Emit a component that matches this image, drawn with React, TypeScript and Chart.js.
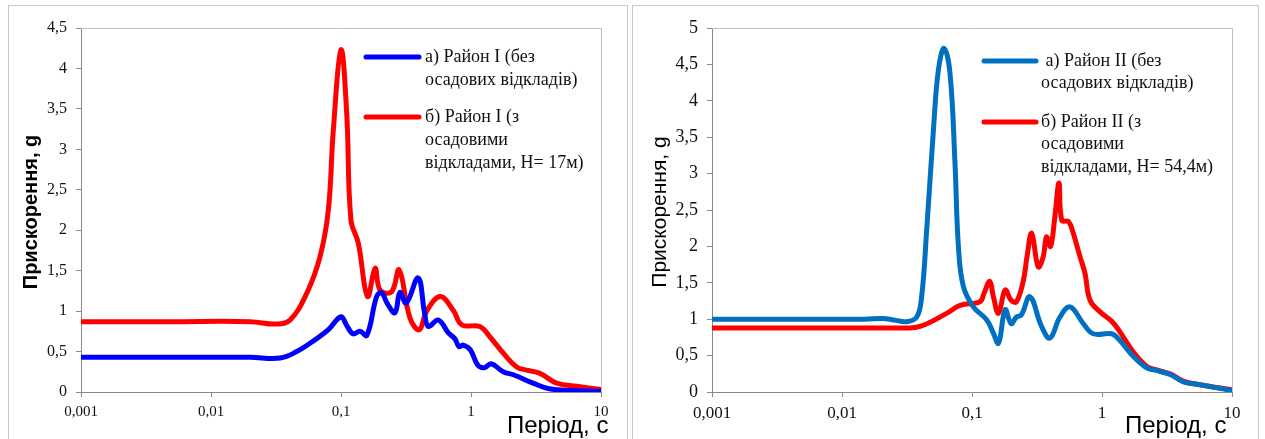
import React, { useEffect, useRef } from "react";
import { Chart, registerables } from "chart.js";

Chart.register(...registerables);

// ---------- DATA ----------
const xTickValues = [0.001, 0.01, 0.1, 1, 10];
const xTickLabels = ["0,001", "0,01", "0,1", "1", "10"];

const yTickValuesLeft = [0, 0.5, 1, 1.5, 2, 2.5, 3, 3.5, 4, 4.5];
const yTickLabelsLeft = ["0", "0,5", "1", "1,5", "2", "2,5", "3", "3,5", "4", "4,5"];
const yTickValuesRight = [0, 0.5, 1, 1.5, 2, 2.5, 3, 3.5, 4, 4.5, 5];
const yTickLabelsRight = ["0", "0,5", "1", "1,5", "2", "2,5", "3", "3,5", "4", "4,5", "5"];

const yTitle = "Прискорення, g";
const xTitle = "Період, с";

// Left chart, series a (blue)
const leftPeriodsA = [0.001, 0.005, 0.02, 0.034, 0.0456, 0.065, 0.08, 0.1, 0.11, 0.1235, 0.14, 0.158, 0.188, 0.205, 0.226, 0.26, 0.284, 0.318, 0.392, 0.44, 0.47, 0.561, 0.67, 0.75, 0.81, 0.87, 0.99, 1.13, 1.27, 1.43, 1.77, 2.14, 3.0, 4.0, 6.2, 10];
const leftValuesA = [0.43, 0.43, 0.43, 0.42, 0.5, 0.66, 0.77, 0.93, 0.83, 0.72, 0.75, 0.7, 1.18, 1.23, 1.1, 0.98, 1.23, 1.1, 1.41, 0.97, 0.81, 0.89, 0.73, 0.66, 0.56, 0.58, 0.52, 0.33, 0.3, 0.35, 0.25, 0.21, 0.11, 0.04, 0.02, 0.01];
// Left chart, series b (red)
const leftPeriodsB = [0.001, 0.005, 0.02, 0.032, 0.0406, 0.0545, 0.0689, 0.0799, 0.0873, 0.1, 0.1106, 0.1192, 0.1359, 0.16, 0.183, 0.2, 0.245, 0.28, 0.34, 0.4, 0.456, 0.58, 0.73, 0.85, 1.17, 1.4, 1.772, 2.245, 2.68, 3.39, 4.56, 6.5, 10];
const leftValuesB = [0.87, 0.87, 0.87, 0.84, 0.89, 1.22, 1.67, 2.25, 3.24, 4.23, 3.45, 2.13, 1.84, 1.18, 1.53, 1.26, 1.24, 1.51, 0.91, 0.77, 1.0, 1.18, 1.01, 0.83, 0.81, 0.68, 0.48, 0.31, 0.27, 0.23, 0.11, 0.07, 0.03];

// Right chart, series a (blue)
const rightPeriodsA = [0.001, 0.005, 0.015, 0.0207, 0.025, 0.0315, 0.0376, 0.041, 0.0448, 0.0505, 0.0551, 0.061, 0.0677, 0.074, 0.0786, 0.0858, 0.1024, 0.13, 0.146, 0.16, 0.18, 0.2, 0.22, 0.24, 0.279, 0.343, 0.398, 0.475, 0.568, 0.718, 0.857, 1.19, 1.37, 1.74, 2.21, 2.56, 3.34, 4.22, 5.68, 10];
const rightValuesA = [1.0, 1.0, 1.0, 1.01, 0.99, 0.966, 1.03, 1.31, 2.22, 3.6, 4.42, 4.72, 4.38, 3.14, 2.0, 1.45, 1.17, 0.99, 0.81, 0.67, 1.13, 0.94, 1.03, 1.06, 1.31, 0.9, 0.74, 1.03, 1.17, 0.94, 0.8, 0.8, 0.71, 0.49, 0.33, 0.3, 0.24, 0.14, 0.1, 0.02];
// Right chart, series b (red)
const rightPeriodsB = [0.001, 0.005, 0.02, 0.03, 0.0398, 0.0639, 0.081, 0.115, 0.124, 0.137, 0.146, 0.16, 0.18, 0.2, 0.22, 0.249, 0.265, 0.288, 0.323, 0.353, 0.374, 0.402, 0.434, 0.467, 0.49, 0.553, 0.601, 0.677, 0.74, 0.809, 0.966, 1.19, 1.37, 1.74, 2.21, 2.56, 3.34, 4.22, 5.68, 10];
const rightValuesB = [0.88, 0.88, 0.88, 0.88, 0.9, 1.08, 1.19, 1.24, 1.36, 1.52, 1.31, 1.08, 1.4, 1.26, 1.24, 1.54, 1.86, 2.18, 1.72, 1.86, 2.13, 2.0, 2.41, 2.87, 2.36, 2.34, 2.18, 1.86, 1.63, 1.26, 1.1, 0.97, 0.83, 0.55, 0.35, 0.31, 0.25, 0.15, 0.1, 0.03];

const legendLeftA = ["а) Район I (без", "осадових відкладів)"];
const legendLeftB = ["б) Район I (з", "осадовими", "відкладами, Н= 17м)"];
const legendRightA = [" а) Район II (без", "осадових відкладів)"];
const legendRightB = ["б) Район II (з", "осадовими", "відкладами, Н= 54,4м)"];

const SERIF = "'Liberation Serif', 'Times New Roman', Tinos, 'DejaVu Serif', serif";
const SANS = "'Liberation Sans', Arial, 'DejaVu Sans', sans-serif";

// ---------- CHART ----------
type PanelProps = {
  width: number;
  height: number;
  left: number;
  plotLeft: number;
  plotRight: number;
  yMax: number;
  yTicks: number[];
  yLabels: string[];
  periodsA: number[];
  valuesA: number[];
  periodsB: number[];
  valuesB: number[];
  colorA: string;
  colorB: string;
  legendA: string[];
  legendB: string[];
  legendLineX0: number;
  legendLineX1: number;
  legendTextX: number;
  legendYA: number;
  legendYB: number;
  legendLineH: number;
  tickFontSize: number;
  yTitleFont: string;
  yTitleX: number;
  xTitleX: number;
};

function Panel(p: PanelProps) {
  const ref = useRef<HTMLCanvasElement | null>(null);
  useEffect(() => {
    if (!ref.current) return;
    const toPts = (xs: number[], ys: number[]) => xs.map((x, i) => ({ x, y: ys[i] }));
    const decor = {
      id: "decor",
      beforeDatasetsDraw(chart: any) {
        const { ctx, chartArea } = chart;
        ctx.save();
        ctx.strokeStyle = "#c0c0c0";
        ctx.lineWidth = 1;
        ctx.beginPath();
        ctx.moveTo(chartArea.left, chartArea.top + 0.5);
        ctx.lineTo(chartArea.right + 0.5, chartArea.top + 0.5);
        ctx.lineTo(chartArea.right + 0.5, chartArea.bottom);
        ctx.stroke();
        ctx.restore();
      },
      afterDraw(chart: any) {
        const { ctx } = chart;
        ctx.save();
        const drawEntry = (lines: string[], y: number, color: string) => {
          ctx.strokeStyle = color;
          ctx.lineWidth = 5;
          ctx.lineCap = "round";
          ctx.beginPath();
          ctx.moveTo(p.legendLineX0, y);
          ctx.lineTo(p.legendLineX1, y);
          ctx.stroke();
          ctx.fillStyle = "#111";
          ctx.font = "18px " + SERIF;
          ctx.textAlign = "left";
          ctx.textBaseline = "middle";
          lines.forEach((t, i) => ctx.fillText(t, p.legendTextX, y + i * p.legendLineH));
        };
        drawEntry(p.legendA, p.legendYA, p.colorA);
        drawEntry(p.legendB, p.legendYB, p.colorB);
        ctx.fillStyle = "#000";
        ctx.font = p.yTitleFont;
        ctx.translate(p.yTitleX, 212);
        ctx.rotate(-Math.PI / 2);
        ctx.textAlign = "center";
        ctx.textBaseline = "middle";
        ctx.fillText(yTitle, 0, 0);
        ctx.setTransform(1, 0, 0, 1, 0, 0);
        ctx.font = "24px " + SANS;
        ctx.textAlign = "left";
        ctx.textBaseline = "alphabetic";
        ctx.fillText(xTitle, p.xTitleX, 433);
        ctx.restore();
      },
    };
    const chart = new Chart(ref.current, {
      type: "line",
      data: {
        datasets: [
          {
            data: toPts(p.periodsA, p.valuesA),
            borderColor: p.colorA,
            backgroundColor: p.colorA,
            borderWidth: 5,
            pointRadius: 0,
            tension: 0.4,
            fill: false,
            borderCapStyle: "round",
            borderJoinStyle: "round",
          },
          {
            data: toPts(p.periodsB, p.valuesB),
            borderColor: p.colorB,
            backgroundColor: p.colorB,
            borderWidth: 5,
            pointRadius: 0,
            tension: 0.4,
            fill: false,
            borderCapStyle: "round",
            borderJoinStyle: "round",
          },
        ],
      },
      options: {
        animation: false,
        responsive: false,
        maintainAspectRatio: false,
        layout: { padding: { top: 28, right: p.width - p.plotRight, left: 0, bottom: 0 } },
        plugins: { legend: { display: false }, tooltip: { enabled: false } },
        scales: {
          x: {
            type: "logarithmic",
            min: 0.001,
            max: 10,
            afterBuildTicks: (scale: any) => {
              scale.ticks = xTickValues.map((v) => ({ value: v }));
            },
            afterFit: (scale: any) => {
              scale.height = 47;
            },
            ticks: {
              autoSkip: false,
              maxRotation: 0,
              padding: 6,
              color: "#111",
              font: { family: SERIF, size: p.tickFontSize },
              callback: (v: any) => {
                const i = xTickValues.findIndex((t) => Math.abs(t - Number(v)) < Number(v) * 1e-6);
                return i >= 0 ? xTickLabels[i] : "";
              },
            },
            grid: { display: true, drawOnChartArea: false, drawTicks: true, tickLength: 5, color: "#898989" },
            border: { display: true, color: "#898989", width: 1 },
          },
          y: {
            type: "linear",
            min: 0,
            max: p.yMax,
            afterBuildTicks: (scale: any) => {
              scale.ticks = p.yTicks.map((v) => ({ value: v }));
            },
            afterFit: (scale: any) => {
              scale.width = p.plotLeft;
            },
            ticks: {
              autoSkip: false,
              padding: 9,
              color: "#111",
              font: { family: SERIF, size: p.tickFontSize + 1 },
              callback: (v: any) => {
                const i = p.yTicks.findIndex((t) => Math.abs(t - Number(v)) < 1e-6);
                return i >= 0 ? p.yLabels[i] : "";
              },
            },
            grid: { display: true, drawOnChartArea: false, drawTicks: true, tickLength: 5, color: "#898989" },
            border: { display: true, color: "#898989", width: 1 },
          },
        },
      },
      plugins: [decor],
    } as any);
    return () => chart.destroy();
  }, []);
  return (
    <canvas
      ref={ref}
      width={p.width}
      height={p.height}
      style={{ position: "absolute", left: p.left, top: 0, width: p.width, height: p.height }}
    />
  );
}

export default function App() {
  return (
    <div style={{ position: "absolute", left: 0, top: 0, width: 1265, height: 439, background: "#fff", overflow: "hidden" }}>
      <div style={{ position: "absolute", left: 8, top: 5, width: 620, height: 440, border: "1px solid #c8c8c8", boxSizing: "border-box" }} />
      <div style={{ position: "absolute", left: 632, top: 5, width: 627, height: 440, border: "1px solid #c8c8c8", boxSizing: "border-box" }} />
      <Panel
        width={630}
        height={439}
        left={0}
        plotLeft={81}
        plotRight={601}
        yMax={4.5}
        yTicks={yTickValuesLeft}
        yLabels={yTickLabelsLeft}
        periodsA={leftPeriodsA}
        valuesA={leftValuesA}
        periodsB={leftPeriodsB}
        valuesB={leftValuesB}
        colorA="#0000ff"
        colorB="#ff0000"
        legendA={legendLeftA}
        legendB={legendLeftB}
        legendLineX0={366}
        legendLineX1={419}
        legendTextX={425}
        legendYA={57}
        legendYB={117}
        legendLineH={23}
        tickFontSize={15}
        yTitleFont={"bold 20px " + SANS}
        yTitleX={31}
        xTitleX={507}
      />
      <Panel
        width={635}
        height={439}
        left={630}
        plotLeft={82}
        plotRight={602}
        yMax={5}
        yTicks={yTickValuesRight}
        yLabels={yTickLabelsRight}
        periodsA={rightPeriodsA}
        valuesA={rightValuesA}
        periodsB={rightPeriodsB}
        valuesB={rightValuesB}
        colorA="#0070c0"
        colorB="#ff0000"
        legendA={legendRightA}
        legendB={legendRightB}
        legendLineX0={354}
        legendLineX1={406}
        legendTextX={411}
        legendYA={61}
        legendYB={122}
        legendLineH={22.5}
        tickFontSize={17}
        yTitleFont={"21px " + SANS}
        yTitleX={30}
        xTitleX={495}
      />
    </div>
  );
}
